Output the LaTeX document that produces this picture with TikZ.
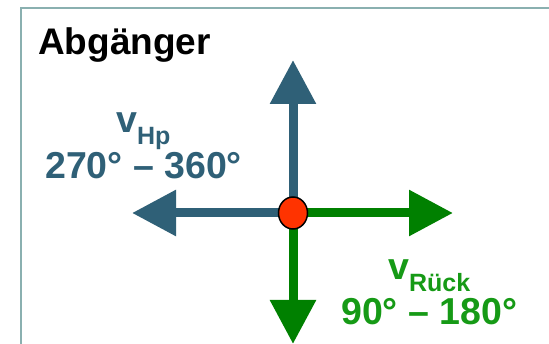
\documentclass[tikz,border=0pt]{standalone}
\usepackage{fontspec}
\setmainfont{Liberation Sans}
\usetikzlibrary{arrows.meta,shapes.geometric}
\definecolor{frameC}{HTML}{8AB0B0}
\definecolor{tealC}{HTML}{2F6077}
\definecolor{greenA}{HTML}{008000}
\definecolor{greenT}{HTML}{169A16}
\definecolor{redC}{HTML}{FF3300}
\tikzset{
  vec/.style={line width=9pt, -{Triangle[length=44pt,width=44pt]}},
  lbl/.style={anchor=base west, inner sep=0pt, font=\bfseries\fontsize{37.5}{40}\selectfont},
}
\begin{document}
\begin{tikzpicture}[x=1pt,y=-1pt]
\useasboundingbox (0,0) rectangle (549,344);
\fill[white] (0,0) rectangle (549,344);
\draw[frameC, line width=2.2pt] (21,344) -- (21,8) -- (549,8);
\coordinate (c) at (293,213);
\coordinate (up) at (293,60);
\coordinate (lt) at (132,213);
\coordinate (rt) at (453,213);
\coordinate (dn) at (293,344);
\draw[vec, tealC] (c) -- (up);
\draw[vec, tealC] (c) -- (lt);
\draw[vec, greenA] (c) -- (rt);
\draw[vec, greenA] (c) -- (dn);
\node[draw=black, line width=1.5pt, fill=redC, ellipse, minimum width=29pt, minimum height=32pt, inner sep=0pt] (ctr) at (c) {};
\node[lbl, font=\bfseries\fontsize{37}{40}\selectfont] (title) at (38,55) {Abgänger};
\node[lbl, tealC] (vhp) at (116,133) {v\raisebox{-12pt}{\fontsize{25}{28}\selectfont Hp}};
\node[lbl, tealC] (ahp) at (45,179) {270° – 360°};
\node[lbl, greenT] (vr) at (388,280) {v\raisebox{-12pt}{\fontsize{25}{28}\selectfont Rück}};
\node[lbl, greenT] (ar) at (341,325) {90° – 180°};
\end{tikzpicture}
\end{document}
